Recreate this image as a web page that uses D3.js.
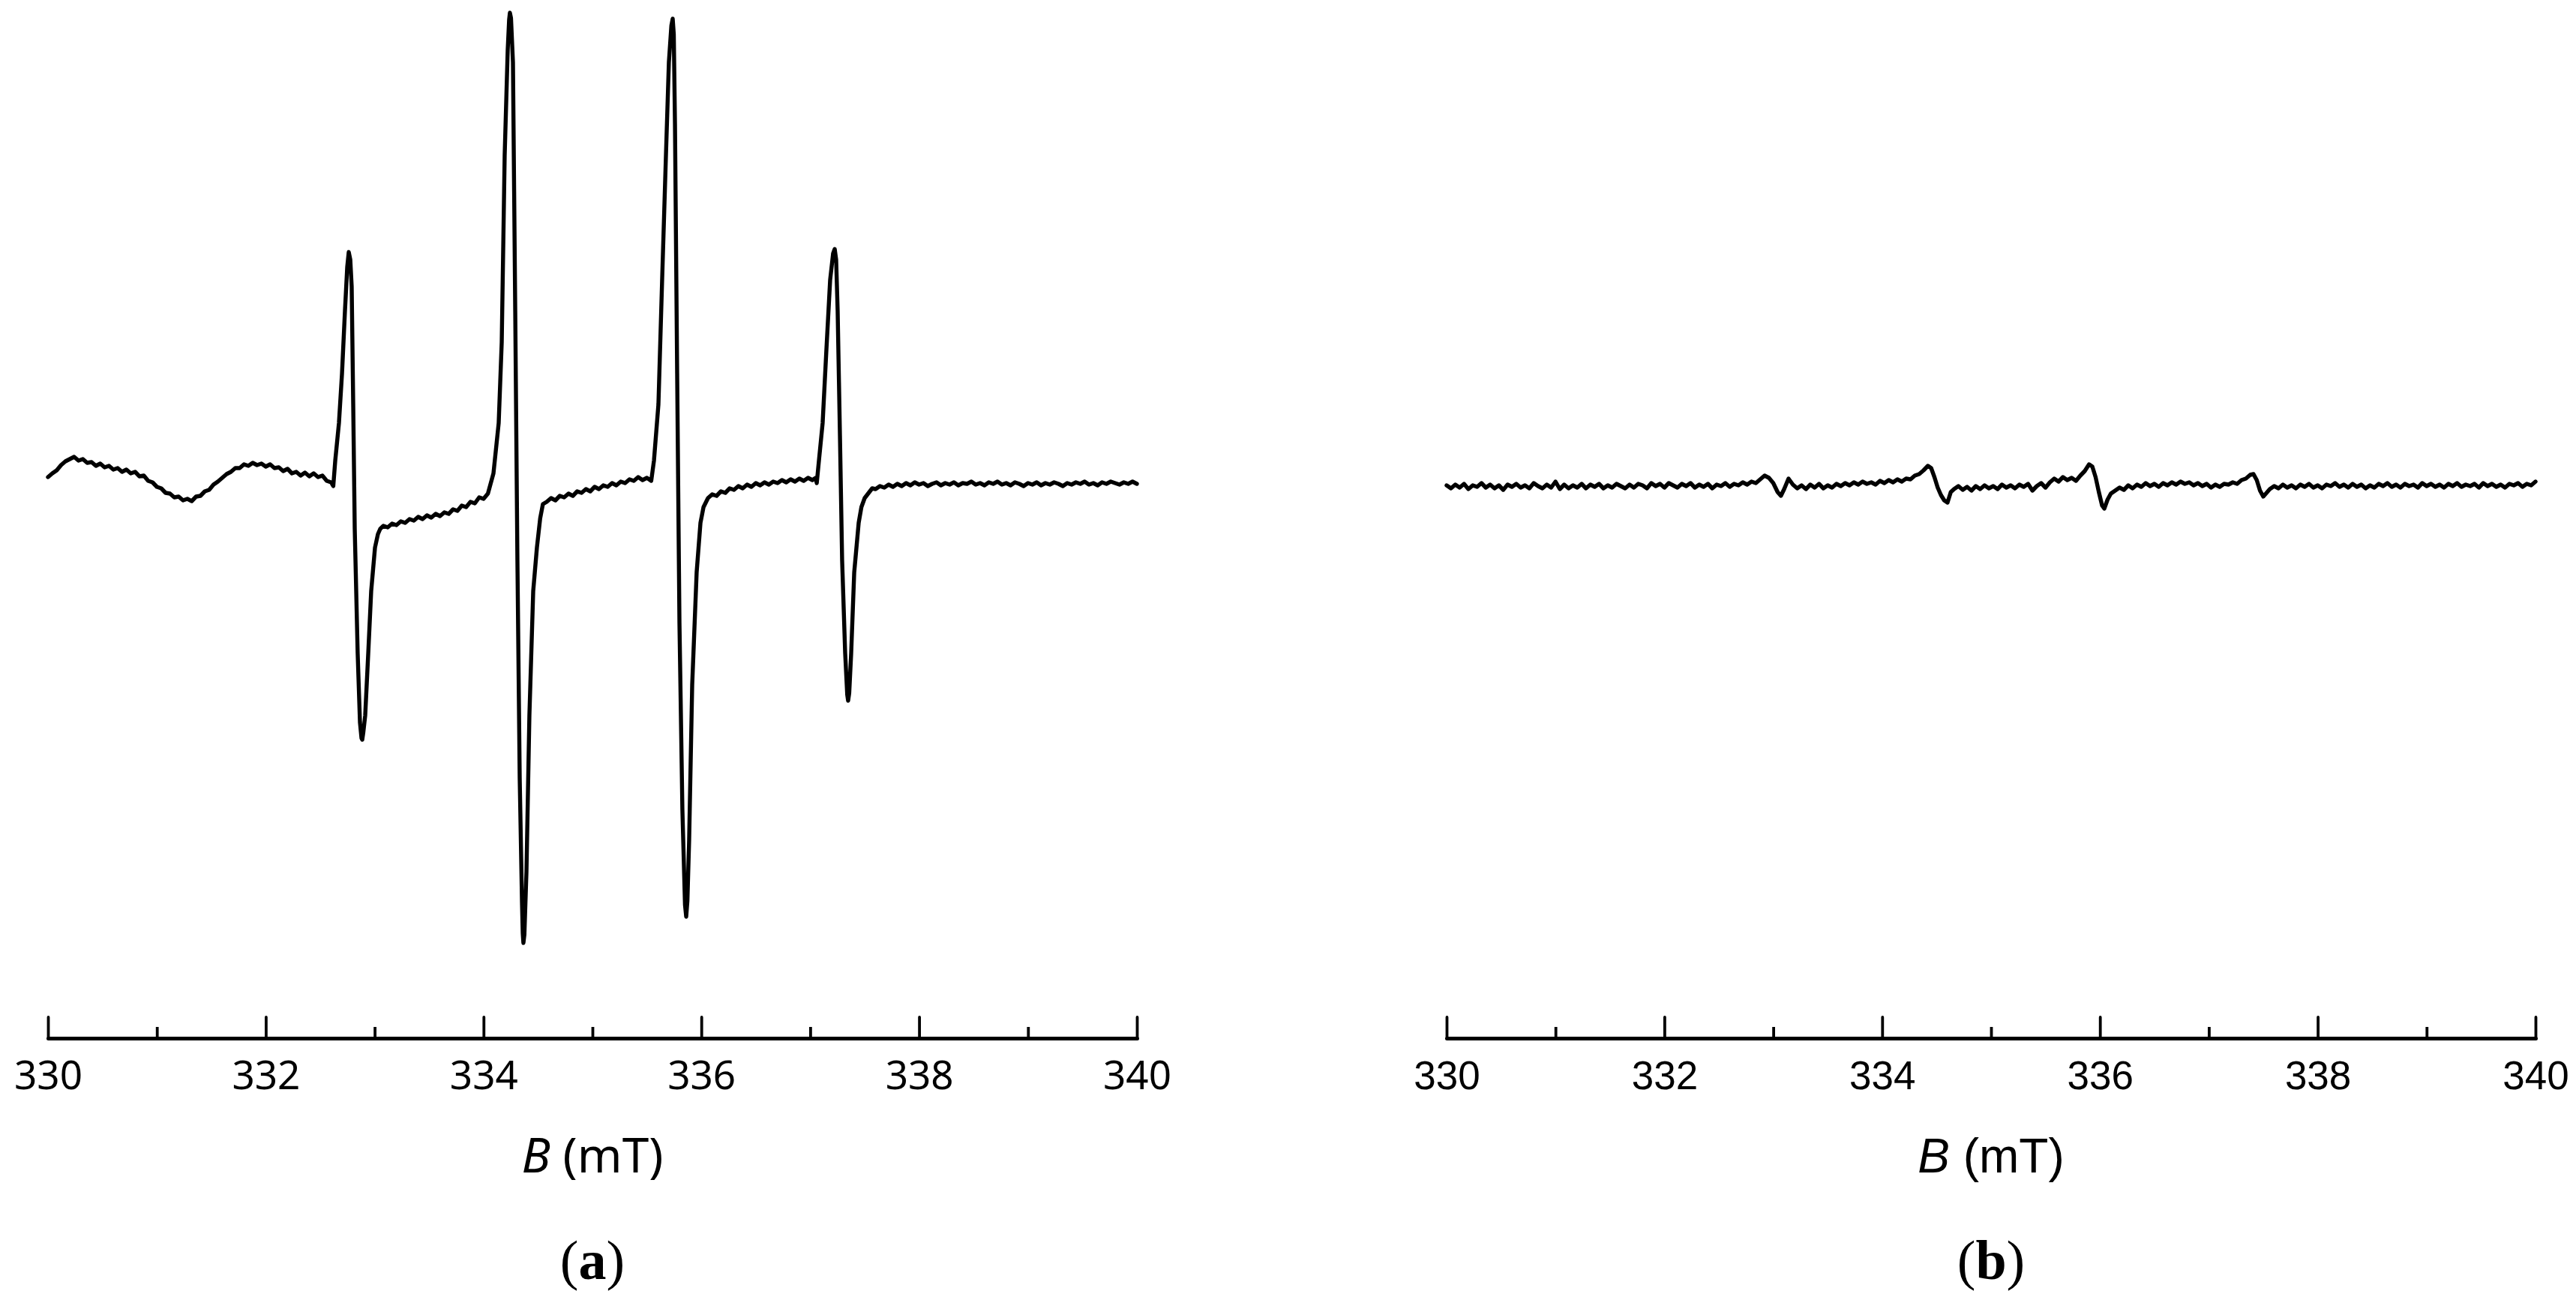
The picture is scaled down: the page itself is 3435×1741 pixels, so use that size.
<!DOCTYPE html>
<html>
<head>
<meta charset="utf-8">
<script src="https://cdn.jsdelivr.net/npm/d3@7"></script>
<style>
  html, body { margin: 0; padding: 0; background: #fff; }
  svg { display: block; }
</style>
</head>
<body>
<svg id="chart" width="3435" height="1741"></svg>
<script>
// ---------- DATA ----------
const fieldDomain = [330, 340];                 // B (mT)
const majorTicks = [330, 332, 334, 336, 338, 340];
const minorTicks = [331, 333, 335, 337, 339];
const axisTitle = "(mT)";
const panelLabels = ["a", "b"];

// Panel (a): EPR spectrum, [B (mT), intensity (a.u.)]
const spectrumA = [
[330.00,10],[330.04,15],[330.08,19],[330.12,26],[330.16,31],[330.20,34],[330.24,37],[330.28,32],[330.32,34],[330.36,29],
[330.40,30],[330.44,25],[330.48,28],[330.52,23],[330.56,25],[330.60,20],[330.64,22],[330.68,17],[330.72,20],[330.76,15],
[330.80,17],[330.84,11],[330.88,12],[330.92,5],[330.96,3],[331.00,-3],[331.04,-5],[331.08,-11],[331.12,-12],[331.16,-17],
[331.20,-16],[331.24,-21],[331.28,-19],[331.32,-22],[331.36,-16],[331.40,-15],[331.44,-9],[331.48,-7],[331.52,0],[331.56,4],
[331.60,9],[331.64,14],[331.68,17],[331.72,22],[331.76,22],[331.80,27],[331.84,25],[331.88,29],[331.92,26],[331.96,28],
[332.00,24],[332.04,27],[332.08,22],[332.12,23],[332.16,18],[332.20,21],[332.24,15],[332.28,17],[332.32,12],[332.36,16],
[332.40,11],[332.44,15],[332.48,10],[332.52,12],[332.56,5],[332.60,3],[332.62,-2],
[332.638,32],[332.672,82],[332.700,148],[332.727,231],[332.748,290],[332.762,310],[332.776,300],[332.789,264],[332.803,107],
[332.817,-59],[332.844,-225],[332.865,-317],[332.879,-338],[332.886,-340],[332.896,-330],[332.913,-308],[332.941,-225],
[332.968,-142],[333.003,-84],[333.03,-66],[333.051,-59],
[333.08,-55],[333.12,-57],[333.16,-52],[333.20,-54],[333.24,-49],[333.28,-51],[333.32,-46],[333.36,-48],[333.40,-43],
[333.44,-46],[333.48,-41],[333.52,-44],[333.56,-39],[333.60,-42],[333.64,-37],[333.68,-39],[333.72,-33],[333.76,-35],
[333.80,-28],[333.84,-30],[333.88,-23],[333.92,-25],[333.96,-17],[334.00,-19],[334.04,-12],
[334.091,15],[334.139,82],[334.167,190],[334.194,439],[334.222,580],[334.235,620],[334.242,629],[334.252,622],[334.270,563],
[334.291,231],[334.311,-101],[334.332,-391],[334.353,-557],[334.360,-598],[334.366,-611],[334.375,-600],[334.394,-516],
[334.421,-308],[334.456,-142],[334.490,-84],[334.52,-45],[334.545,-26],
[334.58,-23],[334.62,-18],[334.66,-21],[334.70,-15],[334.74,-17],[334.78,-12],[334.82,-15],[334.86,-9],[334.90,-11],
[334.94,-6],[334.98,-9],[335.02,-3],[335.06,-6],[335.10,-1],[335.14,-3],[335.18,2],[335.22,-1],[335.26,4],[335.30,2],
[335.34,7],[335.38,5],[335.42,10],[335.46,6],[335.50,9],[335.54,5],
[335.565,32],[335.606,107],[335.640,273],[335.675,439],[335.702,563],[335.725,612],[335.737,621],[335.747,600],[335.758,480],
[335.778,148],[335.799,-184],[335.826,-433],[335.850,-560],[335.861,-576],[335.872,-555],[335.888,-474],[335.916,-267],
[335.957,-117],[335.992,-51],[336.02,-30],[336.061,-18],
[336.10,-13],[336.14,-15],[336.18,-9],[336.22,-11],[336.26,-5],[336.30,-7],[336.34,-2],[336.38,-5],[336.42,0],[336.46,-3],
[336.50,2],[336.54,-1],[336.58,3],[336.62,0],[336.66,4],[336.70,2],[336.74,6],[336.78,3],[336.82,7],[336.86,4],[336.90,8],
[336.94,5],[336.98,9],[337.02,6],[337.05,9],[337.06,2],
[337.080,32],[337.114,82],[337.149,181],[337.183,273],[337.210,308],[337.225,314],[337.238,300],[337.252,231],[337.273,65],
[337.293,-101],[337.321,-225],[337.340,-280],[337.348,-288],[337.358,-278],[337.376,-225],[337.404,-117],[337.445,-51],
[337.470,-30],[337.500,-18],[337.569,-5],
[337.60,-6],[337.64,-2],[337.68,-4],[337.72,0],[337.76,-3],[337.80,1],[337.84,-2],[337.88,2],[337.92,-1],[337.96,3],
[338.00,0],[338.04,2],[338.08,-2],[338.12,1],[338.16,3],[338.20,-1],[338.24,2],[338.28,0],[338.32,3],[338.36,-1],
[338.40,2],[338.44,1],[338.48,4],[338.52,0],[338.56,2],[338.60,-1],[338.64,3],[338.68,1],[338.72,4],[338.76,0],
[338.80,2],[338.84,-1],[338.88,3],[338.92,1],[338.96,-2],[339.00,2],[339.04,0],[339.08,3],[339.12,-1],[339.16,2],
[339.20,0],[339.24,3],[339.28,1],[339.32,-2],[339.36,2],[339.40,0],[339.44,3],[339.48,1],[339.52,4],[339.56,0],
[339.60,2],[339.64,-1],[339.68,3],[339.72,1],[339.76,4],[339.80,2],[339.84,0],[339.88,3],[339.92,1],[339.96,4],[340.00,1]
];

// Panel (b): EPR spectrum, [B (mT), intensity (a.u.)]
const spectrumB = [
[330.00,1],[330.04,-3],[330.08,2],[330.12,-2],[330.16,3],[330.20,-4],[330.24,1],[330.28,-1],[330.32,4],[330.36,-2],
[330.40,2],[330.44,-3],[330.48,1],[330.52,-5],[330.56,2],[330.60,-1],[330.64,3],[330.68,-2],[330.72,1],[330.76,-3],
[330.80,4],[330.84,0],[330.88,-3],[330.92,2],[330.96,-2],[331.00,6],[331.04,-4],[331.08,2],[331.12,-3],[331.16,1],
[331.20,-2],[331.24,3],[331.28,-3],[331.32,2],[331.36,-1],[331.40,3],[331.44,-3],[331.48,1],[331.52,-2],[331.56,3],
[331.60,0],[331.64,-3],[331.68,2],[331.72,-2],[331.76,3],[331.80,1],[331.84,-3],[331.88,4],[331.92,0],[331.96,3],
[332.00,-2],[332.04,4],[332.08,1],[332.12,-2],[332.16,3],[332.20,0],[332.24,4],[332.28,-2],[332.32,2],[332.36,-1],
[332.40,3],[332.44,-3],[332.48,2],[332.52,0],[332.56,4],[332.60,-1],[332.64,3],[332.68,1],[332.72,5],[332.76,2],
[332.80,6],[332.84,4],[332.88,9],[332.92,14],[332.96,11],[333.00,4],[333.04,-8],[333.07,-13],[333.10,-4],[333.14,10],
[333.18,2],[333.22,-3],[333.26,1],[333.30,-4],[333.34,2],[333.38,-2],[333.42,3],[333.46,-3],[333.50,1],[333.54,-2],
[333.58,3],[333.62,0],[333.66,4],[333.70,1],[333.74,5],[333.78,2],[333.82,6],[333.86,3],[333.90,5],[333.94,2],
[333.98,7],[334.02,4],[334.06,8],[334.10,5],[334.14,9],[334.18,6],[334.22,10],[334.26,9],[334.30,14],[334.34,16],
[334.38,21],[334.42,27],[334.45,24],[334.48,12],[334.51,-2],[334.54,-12],[334.57,-19],[334.60,-22],[334.63,-8],[334.66,-4],
[334.70,0],[334.74,-5],[334.78,-1],[334.82,-6],[334.86,0],[334.90,-4],[334.94,1],[334.98,-3],[335.02,0],[335.06,-4],
[335.10,2],[335.14,-2],[335.18,1],[335.22,-3],[335.26,2],[335.30,-1],[335.34,3],[335.38,-6],[335.42,0],[335.46,4],
[335.50,-2],[335.54,5],[335.58,10],[335.62,6],[335.66,12],[335.70,8],[335.74,11],[335.78,7],[335.82,14],[335.86,20],
[335.90,29],[335.93,26],[335.96,12],[335.99,-8],[336.02,-26],[336.04,-30],[336.07,-18],[336.10,-10],[336.14,-6],[336.18,-2],
[336.22,-5],[336.26,1],[336.30,-3],[336.34,2],[336.38,-1],[336.42,4],[336.46,0],[336.50,3],[336.54,-1],[336.58,4],
[336.62,1],[336.66,5],[336.70,2],[336.74,6],[336.78,3],[336.82,5],[336.86,1],[336.90,4],[336.94,0],[336.98,3],
[337.02,-2],[337.06,2],[337.10,-1],[337.14,3],[337.18,2],[337.22,5],[337.26,3],[337.30,8],[337.34,10],[337.38,15],
[337.41,16],[337.44,8],[337.47,-6],[337.50,-14],[337.53,-9],[337.56,-4],[337.60,0],[337.64,-3],[337.68,2],[337.72,-2],
[337.76,1],[337.80,-3],[337.84,2],[337.88,-1],[337.92,3],[337.96,-2],[338.00,1],[338.04,-3],[338.08,2],[338.12,0],
[338.16,4],[338.20,-1],[338.24,2],[338.28,-2],[338.32,3],[338.36,-1],[338.40,2],[338.44,-3],[338.48,1],[338.52,-2],
[338.56,3],[338.60,0],[338.64,4],[338.68,-1],[338.72,2],[338.76,-2],[338.80,3],[338.84,0],[338.88,2],[338.92,-2],
[338.96,4],[339.00,0],[339.04,3],[339.08,-1],[339.12,2],[339.16,-2],[339.20,3],[339.24,0],[339.28,4],[339.32,-1],
[339.36,2],[339.40,0],[339.44,3],[339.48,-2],[339.52,4],[339.56,0],[339.60,3],[339.64,-1],[339.68,2],[339.72,-2],
[339.76,3],[339.80,1],[339.84,4],[339.88,-1],[339.92,3],[339.96,1],[340.00,6]
];

const intensityDomain = [-650, 650];

// ---------- LAYOUT ----------
const svg = d3.select("#chart");
const panels = [
  { data: spectrumA, x0: 64,   x1: 1516, yShift: 0, label: panelLabels[0], tickFont: "'Noto Sans', 'Open Sans', sans-serif" },
  { data: spectrumB, x0: 1929, x1: 3381, yShift: 2, label: panelLabels[1], tickFont: "'Liberation Sans', Arial, sans-serif" }
];
const axisY = 1384;

panels.forEach(p => {
  const x = d3.scaleLinear().domain(fieldDomain).range([p.x0, p.x1]);
  const y = d3.scaleLinear().domain(intensityDomain).range([1296 + p.yShift, -4 + p.yShift]);
  const g = svg.append("g");

  // spectrum line
  const line = d3.line().x(d => x(d[0])).y(d => y(d[1])).curve(d3.curveLinear);
  g.append("path")
    .datum(p.data)
    .attr("d", line)
    .attr("fill", "none")
    .attr("stroke", "#000")
    .attr("stroke-width", 5.4)
    .attr("stroke-linejoin", "round")
    .attr("stroke-linecap", "round");

  // minor ticks
  const minorAxis = d3.axisBottom(x).tickValues(minorTicks).tickSize(-15).tickSizeOuter(0).tickFormat("");
  const gm = g.append("g").attr("transform", `translate(0,${axisY})`).call(minorAxis);
  gm.select(".domain").remove();
  gm.selectAll(".tick line").attr("stroke", "#000").attr("stroke-width", 3.8);

  // major ticks + labels
  const majorAxis = d3.axisBottom(x).tickValues(majorTicks).tickSize(-28).tickSizeOuter(0)
    .tickPadding(30).tickFormat(d3.format("d"));
  const ga = g.append("g").attr("transform", `translate(0,${axisY})`).call(majorAxis);
  ga.select(".domain").attr("stroke", "#000").attr("stroke-width", 5).attr("stroke-linecap", "round");
  ga.selectAll(".tick line").attr("stroke", "#000").attr("stroke-width", 3.8).attr("stroke-linecap", "round");
  ga.selectAll(".tick text")
    .attr("font-family", p.tickFont)
    .attr("font-size", 53)
    .attr("fill", "#000");

  // axis title
  const cx = (p.x0 + p.x1) / 2;
  const t = g.append("text")
    .attr("x", cx).attr("y", 1563)
    .attr("text-anchor", "middle")
    .attr("font-family", p.tickFont)
    .attr("font-size", 64)
    .attr("fill", "#000");
  t.append("tspan").attr("font-style", "italic").text("B");
  t.append("tspan").text(" " + axisTitle);

  // panel label
  const l = g.append("text")
    .attr("x", cx).attr("y", 1705)
    .attr("text-anchor", "middle")
    .attr("font-family", "'Liberation Serif', 'Times New Roman', serif")
    .attr("font-size", 74)
    .attr("fill", "#000");
  l.append("tspan").text("(");
  l.append("tspan").attr("font-weight", "bold").text(p.label);
  l.append("tspan").text(")");
});
</script>
</body>
</html>
